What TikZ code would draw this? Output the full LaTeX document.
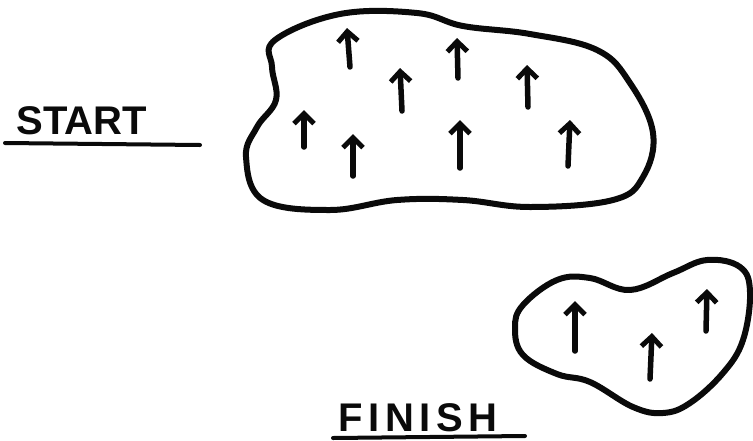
\documentclass[tikz,border=0pt]{standalone}
\usepackage{fontspec}
\usepackage{xcolor}
\usetikzlibrary{arrows.meta, positioning}
\setmainfont{Liberation Sans}
\definecolor{inkblack}{RGB}{10, 10, 10}

\tikzset{
    blob/.style={draw=inkblack, line width=6pt, line join=round},
    spin/.style={draw=inkblack, line width=5.5pt, line cap=round,
                 -{Straight Barb[length=10pt, width=20pt, line width=5pt]}},
    label/.style={font=\fontsize{40}{46}\selectfont\bfseries, text=inkblack, inner sep=0pt},
    rule/.style={draw=inkblack, line width=4pt, line cap=round}
}

\begin{document}
\begin{tikzpicture}[x=1pt, y=-1pt]
    \useasboundingbox (0,0) rectangle (753,440);

    % labels
    \node[label] (start) at (82,121) {START};
    \node[label] (finish) at (418,418) {\addfontfeature{LetterSpace=14}FINISH};
    \draw[rule] (5,143) -- (200,145);
    \draw[rule] (333,438) -- (525,436);

    % start region
    \draw[blob] plot[smooth cycle, tension=0.65] coordinates {
        (275,40) (340,14) (417,13) (463,26) (530,34) (597,50) (630,83)
        (653,133) (643,177) (613,200) (530,207) (463,200) (397,200)
        (330,210) (263,200) (246,157) (257,127) (276,100) (272,67)};

    % spins in start region
    \draw[spin] (350,67) -- (347,28);
    \draw[spin] (402,111) -- (400,68);
    \draw[spin] (458,78) -- (457,38);
    \draw[spin] (528,107) -- (527,65);
    \draw[spin] (304,147) -- (304,110);
    \draw[spin] (353,176) -- (353,134);
    \draw[spin] (460,168) -- (460,120);
    \draw[spin] (568,166) -- (570,120);

    % finish region
    \draw[blob] plot[smooth cycle, tension=0.65] coordinates {
        (523,305) (557,280) (590,278) (630,290) (673,273) (707,260)
        (740,267) (750,292) (743,340) (723,373) (690,403) (663,413)
        (633,407) (590,382) (557,374) (523,355) (515,328)};

    % spins in finish region
    \draw[spin] (575,351) -- (575,301);
    \draw[spin] (650,379) -- (652,333);
    \draw[spin] (706,331) -- (707,289);
\end{tikzpicture}
\end{document}
